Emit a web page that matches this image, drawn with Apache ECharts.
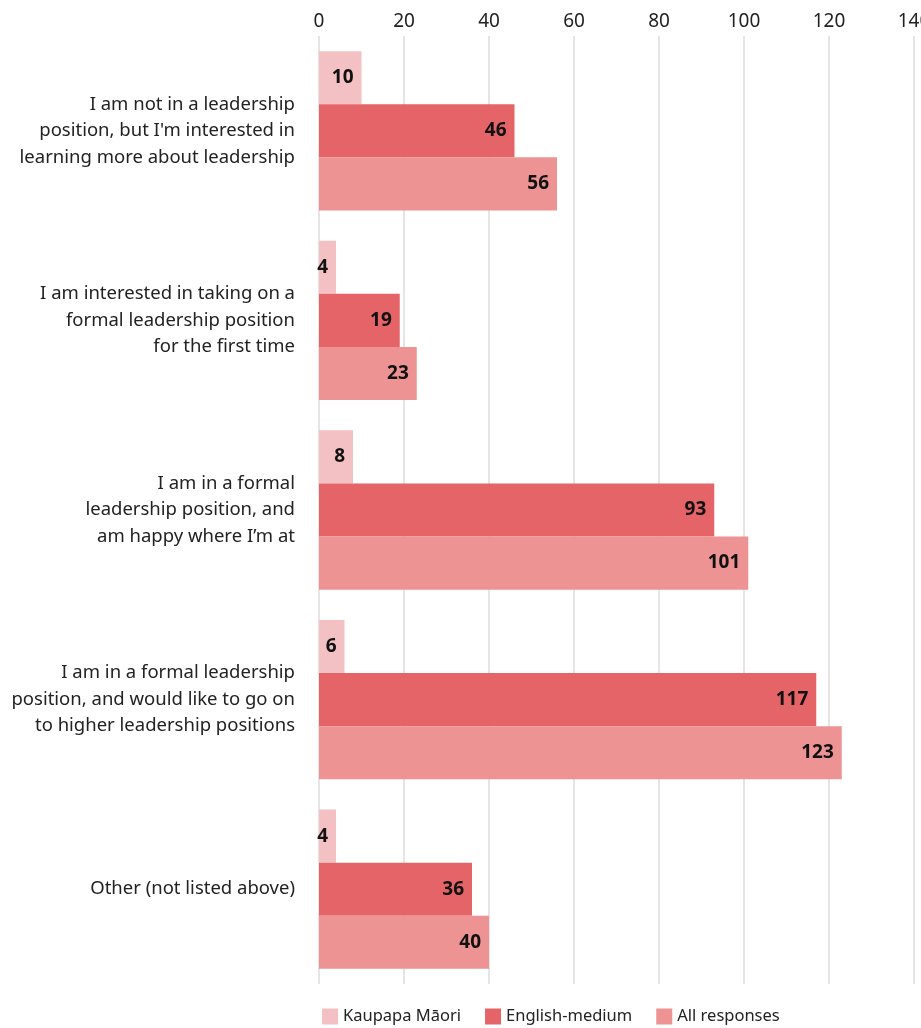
<!DOCTYPE html>
<html>
<head>
<meta charset="utf-8">
<script src="https://cdn.jsdelivr.net/npm/echarts@6/dist/echarts.min.js"></script>
<style>
  html, body { margin: 0; padding: 0; background: #fff; }
  #chart { width: 921px; height: 1028px; }
</style>
</head>
<body>
<div id="chart"></div>
<script>
// Survey answers about leadership aspirations
const categories = [
  "I am not in a leadership\nposition, but I'm interested in\nlearning more about leadership",
  "I am interested in taking on a\nformal leadership position\nfor the first time",
  "I am in a formal\nleadership position, and\nam happy where I\u2019m at",
  "I am in a formal leadership\nposition, and would like to go on\nto higher leadership positions",
  "Other (not listed above)"
];
const seriesNames = ["Kaupapa M\u0101ori", "English-medium", "All responses"];
const kaupapaMaori = [10, 4, 8, 6, 4];
const englishMedium = [46, 19, 93, 117, 36];
const allResponses = [56, 23, 101, 123, 40];
const xTicks = [0, 20, 40, 60, 80, 100, 120, 140];

const colors = ["#f3c1c3", "#e46467", "#ed9393"];
const FONT = "'Noto Sans', 'Open Sans', sans-serif";

const chart = echarts.init(document.getElementById('chart'), null, { renderer: 'canvas' });

function barSeries(name, data, color) {
  return {
    name: name,
    type: 'bar',
    data: data,
    itemStyle: { color: color },
    barGap: '0%',
    barCategoryGap: '16%',
    label: {
      show: true,
      position: 'insideRight',
      distance: 8,
      color: '#111',
      fontFamily: FONT,
      fontWeight: 'bold',
      fontSize: 19
    }
  };
}

chart.setOption({
  animation: false,
  textStyle: { fontFamily: FONT },
  grid: { left: 319, right: 7, top: 36, bottom: 44, outerBoundsMode: 'none', containLabel: false },
  legend: {
    data: seriesNames,
    bottom: -2,
    left: 317,
    itemWidth: 16,
    itemHeight: 16,
    itemGap: 24,
    icon: 'rect',
    textStyle: { fontSize: 16.5, color: '#222', fontFamily: FONT }
  },
  xAxis: {
    type: 'value',
    position: 'top',
    min: xTicks[0],
    max: xTicks[xTicks.length - 1],
    interval: 20,
    axisLine: { show: false },
    axisTick: { show: false },
    axisLabel: { color: '#222', fontSize: 19, margin: 5, fontFamily: FONT },
    splitLine: { show: true, lineStyle: { color: '#dcdcdc', width: 1.5 } }
  },
  yAxis: {
    type: 'category',
    data: categories,
    inverse: true,
    axisLine: { show: false },
    axisTick: { show: false },
    axisLabel: {
      color: '#222',
      fontSize: 18.5,
      lineHeight: 26.5,
      margin: 24,
      padding: [12, 0, 0, 0],
      align: 'right',
      fontFamily: FONT
    }
  },
  series: [
    barSeries(seriesNames[0], kaupapaMaori, colors[0]),
    barSeries(seriesNames[1], englishMedium, colors[1]),
    barSeries(seriesNames[2], allResponses, colors[2])
  ]
});
</script>
</body>
</html>
